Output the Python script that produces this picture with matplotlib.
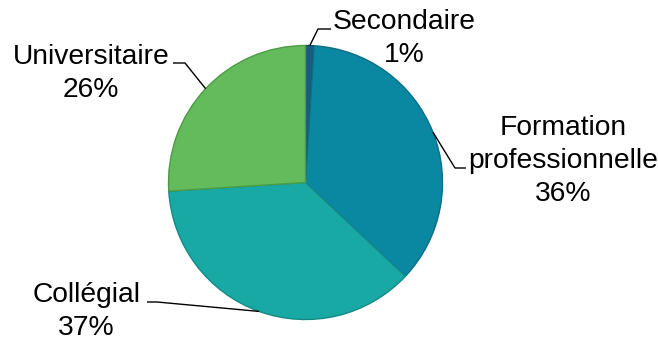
import numpy as np
import matplotlib
matplotlib.use("Agg")
import matplotlib.pyplot as plt

categories = ["Secondaire", "Formation\nprofessionnelle", "Collégial", "Universitaire"]
values = [1, 36, 37, 26]
pct_labels = ["1%", "36%", "37%", "26%"]
colors = ["#1a5a86", "#0a87a1", "#19a9a4", "#64bb5b"]
edge_colors = ["#134a70", "#0b6f86", "#148a87", "#4c9c46"]

W, H = 658, 337
fig = plt.figure(figsize=(W / 100, H / 100), dpi=100)
ax = fig.add_axes([0, 0, 1, 1])

cx, cy_img, r = 305.5, 182.5, 137.0
cy = H - cy_img

wedges, _ = ax.pie(values, colors=colors, startangle=90, counterclock=False,
                   center=(cx, cy), radius=r, frame=True,
                   wedgeprops=dict(linewidth=1.0))
for w, ec in zip(wedges, edge_colors):
    w.set_edgecolor(ec)
ax.set_xlim(0, W)
ax.set_ylim(0, H)
ax.set_aspect("equal")
ax.axis("off")

# label layout (image coords): text center x, last-line baseline y
label_pos = [(404, 62), (563, 201), (86.5, 335), (91, 97)]
elbows = [((318, 29), (331, 29)), ((455, 168), (466, 168)),
          ((157, 302), (147, 302)), ((185, 63), (173, 63))]

total = sum(values)
cum = 0
for i, v in enumerate(values):
    mid = 90 - (cum + v / 2) / total * 360
    cum += v
    ax_pt = (cx + r * np.cos(np.radians(mid)), cy + r * np.sin(np.radians(mid)))
    (ex, ey), (tx, ty) = elbows[i]
    ax.plot([ax_pt[0], ex, tx], [ax_pt[1], H - ey, H - ty], color="black",
            linewidth=1.0, solid_capstyle="butt", zorder=5)
    lx, ly = label_pos[i]
    ax.text(lx, H - ly, categories[i] + "\n" + pct_labels[i], ha="center",
            va="baseline", fontsize=20.3, linespacing=1.36,
            family=["Liberation Sans", "DejaVu Sans"], color="black")

fig.savefig("out.png", dpi=100, facecolor="white")
